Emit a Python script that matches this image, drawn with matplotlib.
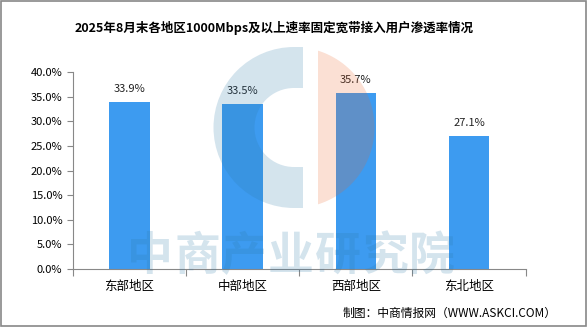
import matplotlib.pyplot as plt
from matplotlib.patches import Rectangle, Wedge, Polygon
import numpy as np

plt.rcParams['font.family'] = ['Noto Sans CJK SC', 'DejaVu Sans']

regions = ['东部地区', '中部地区', '西部地区', '东北地区']
rates = [33.9, 33.5, 35.7, 27.1]
yticks = [0, 5, 10, 15, 20, 25, 30, 35, 40]

fig = plt.figure(figsize=(5.88, 3.27), dpi=100)
ax = fig.add_axes([0.124, 0.177, 0.770, 0.603], zorder=1)

ax.bar(range(len(regions)), rates, width=0.36, color='#3d9bf0', zorder=2)
for i, v in enumerate(rates):
    ax.text(i, v + 1.6, '%.1f%%' % v, ha='center', va='bottom', fontsize=8, color='#222222')

ax.set_xlim(-0.5, len(regions) - 0.5)
ax.set_ylim(0, 40)
ax.set_yticks(yticks)
ax.set_yticklabels(['%.1f%%' % t for t in yticks], fontsize=8)
ax.set_xticks([i - 0.5 for i in range(len(regions) + 1)])
ax.set_xticklabels([])
for i, r in enumerate(regions):
    ax.text(i, -2.3, r, ha='center', va='top', fontsize=9)
ax.tick_params(axis='both', color='#888888', length=4)
ax.tick_params(axis='x', length=5)
for s in ['top', 'right']:
    ax.spines[s].set_visible(False)
ax.spines['left'].set_color('#888888')
ax.spines['bottom'].set_color('#888888')
ax.patch.set_alpha(0)

# overlay in pixel coords for the watermark logo and text
ov = fig.add_axes([0, 0, 1, 1], zorder=2)
ov.set_xlim(0, 588)
ov.set_ylim(327, 0)
ov.axis('off')

cx, cy, R = 294, 127.5, 80.5
ov.add_patch(Wedge((cx, cy), R, 90, 270, width=41, facecolor='#2b78a8', alpha=0.2, lw=0))
ov.add_patch(Rectangle((cx, cy - R), 9, 41, facecolor='#2b78a8', alpha=0.2, lw=0))
ov.add_patch(Rectangle((cx, cy + R - 41), 9, 41, facecolor='#2b78a8', alpha=0.2, lw=0))
yy = np.linspace(-1, 1, 80)
xs = 318
dy = np.sqrt(R ** 2 - (xs - cx) ** 2)
ang = np.linspace(-np.arcsin(dy / R), np.arcsin(dy / R), 80)
pts = [(cx + R * np.cos(a), cy + R * np.sin(a)) for a in ang]
ov.add_patch(Polygon(pts, closed=True, facecolor='#eb6428', alpha=0.2, lw=0))

wm = '中商产业研究院'
for k, ch in enumerate(wm):
    t = ov.text(150 + 47 * k, 257, ch, ha='center', va='center', fontsize=33,
                fontweight='bold', color='#2b78a8', alpha=0.2)
    t.set_clip_path(ax.patch)

fig.text(0.466, 0.913, '2025年8月末各地区1000Mbps及以上速率固定宽带接入用户渗透率情况',
         ha='center', va='center', fontsize=9, fontweight='bold')
fig.text(0.947, 0.043, '制图：中商情报网（WWW.ASKCI.COM）', ha='right', va='center', fontsize=8.5)

fig.patches.append(Rectangle((0.002, 0.003), 0.995, 0.994, transform=fig.transFigure,
                             fill=False, edgecolor='#888888', linewidth=1.2))

fig.savefig('out.png', dpi=100)
